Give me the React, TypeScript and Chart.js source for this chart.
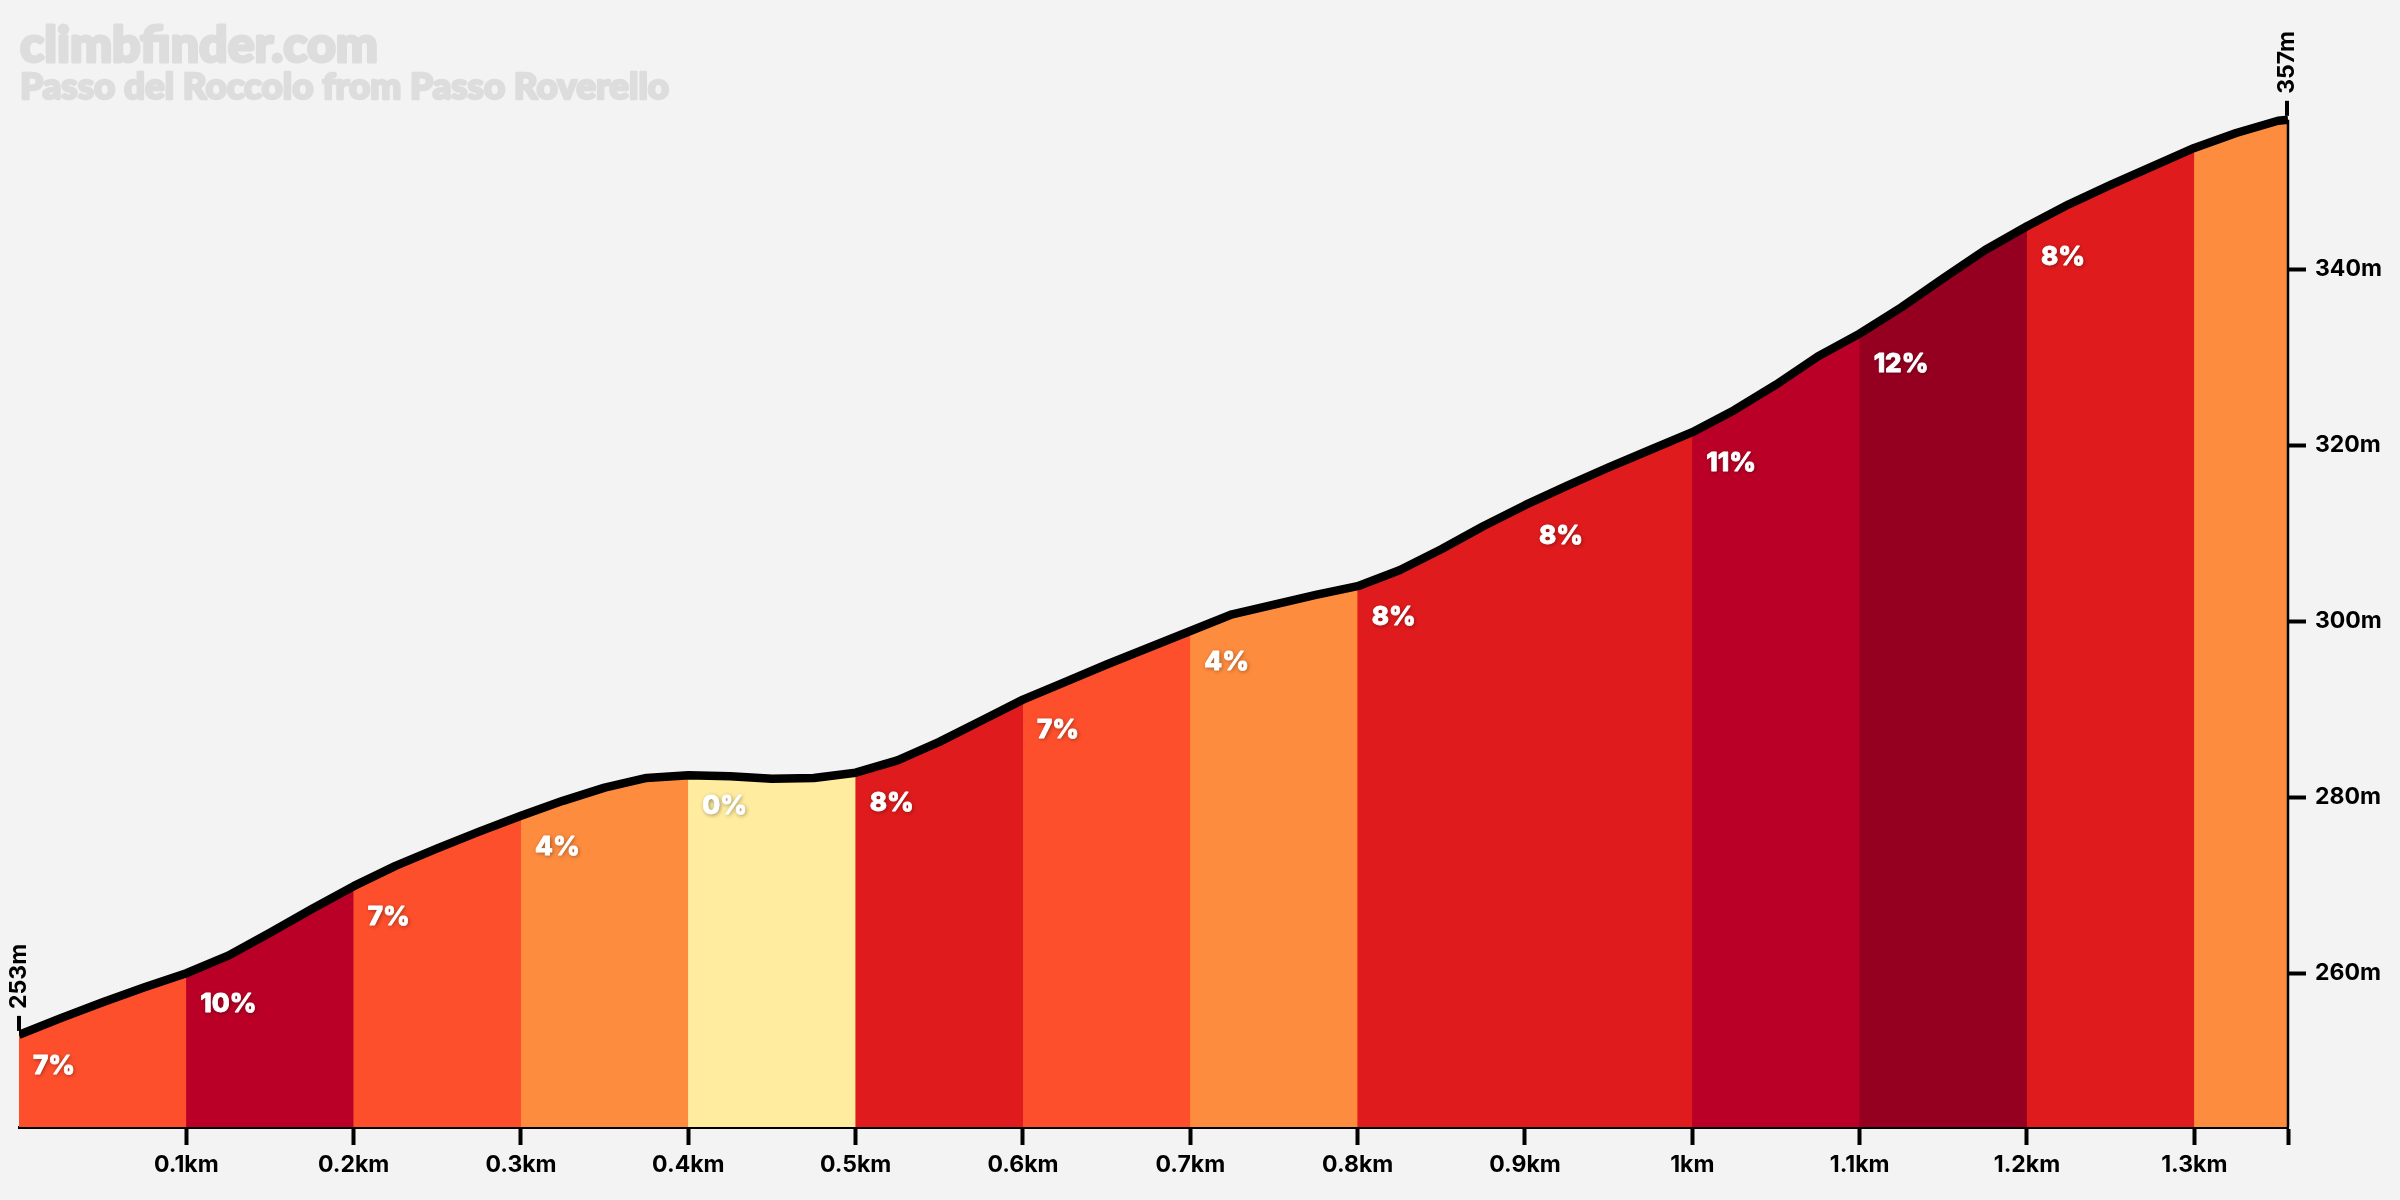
import React, { useEffect, useRef } from 'react';
import { Chart, registerables } from 'chart.js';

Chart.register(...registerables);

const TITLE = 'climbfinder.com';
const SUBTITLE = 'Passo del Roccolo from Passo Roverello';

const DIST_KM = [
  0, 0.025, 0.05, 0.075, 0.1, 0.125, 0.15, 0.175, 0.2, 0.225, 0.25, 0.275, 0.3, 0.325, 0.35, 0.375,
  0.4, 0.425, 0.45, 0.475, 0.5, 0.525, 0.55, 0.575, 0.6, 0.625, 0.65, 0.675, 0.7, 0.725, 0.75, 0.775,
  0.8, 0.825, 0.85, 0.875, 0.9, 0.925, 0.95, 0.975, 1.0, 1.025, 1.05, 1.075, 1.1, 1.125, 1.15, 1.175,
  1.2, 1.225, 1.25, 1.275, 1.3, 1.325, 1.35, 1.356,
];
const ELEV_M = [
  253.0, 254.9, 256.7, 258.4, 260.0, 262.0, 264.6, 267.3, 269.9, 272.2, 274.2, 276.1, 277.9, 279.6, 281.1, 282.2,
  282.5, 282.4, 282.1, 282.2, 282.8, 284.2, 286.3, 288.7, 291.1, 293.1, 295.1, 297.0, 298.9, 300.8, 301.9, 303.0,
  304.0, 305.8, 308.2, 310.8, 313.2, 315.4, 317.5, 319.5, 321.5, 324.0, 326.9, 330.1, 332.7, 335.7, 339.0, 342.2,
  344.9, 347.4, 349.6, 351.7, 353.8, 355.5, 356.9, 357.0,
];

const SEG_BOUNDS_KM = [0, 0.1, 0.2, 0.3, 0.4, 0.5, 0.6, 0.7, 0.8, 0.9, 1.0, 1.1, 1.2, 1.3, 1.356];
const SEG_GRADES = ['7%', '10%', '7%', '4%', '0%', '8%', '7%', '4%', '8%', '8%', '11%', '12%', '8%', ''];
const SEG_COLORS = [
  '#FD4F2C', '#BA0026', '#FD4F2C', '#FE8C3E', '#FFEC9E', '#E01B1D', '#FD4F2C',
  '#FE8C3E', '#E01B1D', '#E01B1D', '#BA0026', '#960020', '#E01B1D', '#FE8C3E',
];

const Y_TICKS = [260, 280, 300, 320, 340];
const X_TICKS = [0.1, 0.2, 0.3, 0.4, 0.5, 0.6, 0.7, 0.8, 0.9, 1.0, 1.1, 1.2, 1.3, 1.356];
const X_LABELLED_MAX = 1.3;
const START_LABEL = '253m';
const END_LABEL = '357m';

const Y_MIN = 242.53;
const Y_MAX = 363.8;

const BG = '#F3F3F3';
const FONT = 'Inter, "Noto Sans", sans-serif';

function elevAt(km: number): number {
  for (let i = 0; i < DIST_KM.length; i++) {
    if (Math.abs(DIST_KM[i] - km) < 1e-6) return ELEV_M[i];
  }
  return ELEV_M[0];
}

const decorPlugin = {
  id: 'decor',
  beforeDraw(chart: any) {
    const ctx = chart.ctx;
    ctx.save();
    ctx.fillStyle = BG;
    ctx.fillRect(0, 0, chart.width, chart.height);
    ctx.fillStyle = '#DDDDDD';
    ctx.strokeStyle = '#DDDDDD';
    ctx.lineJoin = 'round';
    ctx.textAlign = 'left';
    ctx.textBaseline = 'alphabetic';
    ctx.font = '900 50px Lato, sans-serif';
    ctx.lineWidth = 3;
    ctx.strokeText(TITLE, 20, 62);
    ctx.fillText(TITLE, 20, 62);
    ctx.font = '900 36.8px Lato, sans-serif';
    ctx.lineWidth = 2.5;
    ctx.strokeText(SUBTITLE, 20, 99);
    ctx.fillText(SUBTITLE, 20, 99);
    ctx.restore();
  },
  afterDatasetsDraw(chart: any) {
    const ctx = chart.ctx;
    const xs = chart.scales.x;
    const ys = chart.scales.y;
    const area = chart.chartArea;
    ctx.save();

    const endKm = DIST_KM[DIST_KM.length - 1];
    const endX = xs.getPixelForValue(endKm);
    const endY = ys.getPixelForValue(ELEV_M[ELEV_M.length - 1]);
    ctx.strokeStyle = '#000';
    ctx.lineWidth = 2.5;
    ctx.beginPath();
    ctx.moveTo(endX, area.bottom);
    ctx.lineTo(endX, endY);
    ctx.stroke();

    // grade labels
    ctx.font = `800 26px ${FONT}`;
    ctx.textAlign = 'left';
    ctx.textBaseline = 'middle';
    ctx.fillStyle = '#FFFFFF';
    ctx.strokeStyle = '#FFFFFF';
    ctx.lineWidth = 0.8;
    ctx.lineJoin = 'round';
    for (let i = 0; i < SEG_GRADES.length; i++) {
      if (!SEG_GRADES[i]) continue;
      const km = SEG_BOUNDS_KM[i];
      const px = xs.getPixelForValue(km) + 14;
      const py = ys.getPixelForValue(elevAt(km)) + 31;
      ctx.shadowColor = 'rgba(0,0,0,0.45)';
      ctx.shadowBlur = 4;
      ctx.shadowOffsetX = 1;
      ctx.shadowOffsetY = 1;
      ctx.fillText(SEG_GRADES[i], px, py);
      ctx.shadowColor = 'transparent';
      ctx.shadowBlur = 0;
      ctx.shadowOffsetX = 0;
      ctx.shadowOffsetY = 0;
      ctx.strokeText(SEG_GRADES[i], px, py);
    }

    // start / end markers
    const marks = [
      { km: DIST_KM[0], m: ELEV_M[0], text: START_LABEL },
      { km: endKm, m: ELEV_M[ELEV_M.length - 1], text: END_LABEL },
    ];
    ctx.font = `bold 23px ${FONT}`;
    ctx.fillStyle = '#000';
    ctx.strokeStyle = '#000';
    for (const mk of marks) {
      const px = Math.min(Math.max(xs.getPixelForValue(mk.km), 18), endX - 1);
      const py = ys.getPixelForValue(mk.m);
      ctx.lineWidth = 4;
      ctx.beginPath();
      ctx.moveTo(px, py - 4);
      ctx.lineTo(px, py - 19);
      ctx.stroke();
      ctx.save();
      ctx.translate(px, py - 26);
      ctx.rotate(-Math.PI / 2);
      ctx.textAlign = 'left';
      ctx.textBaseline = 'middle';
      ctx.fillText(mk.text, 0, 0);
      ctx.restore();
    }
    ctx.restore();
  },
};

export default function App() {
  const ref = useRef<HTMLCanvasElement | null>(null);

  useEffect(() => {
    document.body.style.margin = '0';
    document.body.style.background = BG;
    const canvas = ref.current;
    if (!canvas) return;

    const points = DIST_KM.map((d, i) => ({ x: d, y: ELEV_M[i] }));
    // each segment also keeps the point just before its start, so that it sits
    // underneath its left neighbour (drawn later) and no seam shows through
    const segDatasets = SEG_COLORS.map((color, i) => {
      const a = SEG_BOUNDS_KM[i];
      const b = SEG_BOUNDS_KM[i + 1];
      const inside = points.filter((p) => p.x >= a - 1e-9 && p.x <= b + 1e-9);
      const firstIdx = points.indexOf(inside[0]);
      const data = firstIdx > 0 ? [points[firstIdx - 1], ...inside] : inside;
      return {
        type: 'line',
        data,
        backgroundColor: color,
        borderWidth: 0,
        borderColor: color,
        pointRadius: 0,
        fill: 'start',
        tension: 0,
        order: 2,
      };
    });

    const chart = new Chart(canvas, {
      type: 'line',
      data: {
        datasets: [
          ...segDatasets,
          {
            type: 'line',
            data: points,
            borderColor: '#000000',
            borderWidth: 8.5,
            borderJoinStyle: 'round',
            borderCapStyle: 'butt',
            pointRadius: 0,
            fill: false,
            tension: 0,
            order: 1,
          },
        ] as any,
      },
      options: {
        responsive: false,
        animation: false,
        events: [],
        layout: { padding: { left: 19, top: 60, right: 0, bottom: 0 } },
        plugins: {
          legend: { display: false },
          tooltip: { enabled: false },
          title: { display: false },
        },
        scales: {
          x: {
            type: 'linear',
            position: 'bottom',
            min: 0,
            max: DIST_KM[DIST_KM.length - 1],
            afterBuildTicks: (scale: any) => {
              scale.ticks = X_TICKS.map((v) => ({ value: v }));
            },
            afterFit: (scale: any) => {
              scale.height = 73;
            },
            border: { display: true, color: '#000', width: 3 },
            grid: {
              display: true,
              drawOnChartArea: false,
              drawTicks: true,
              tickLength: 18,
              tickWidth: 4,
              tickColor: '#000',
            },
            ticks: {
              autoSkip: false,
              maxRotation: 0,
              padding: 6,
              color: '#000',
              font: { family: FONT, weight: 'bold', size: 23 },
              callback: (v: any) => {
                const n = Number(v);
                if (n > X_LABELLED_MAX + 1e-6) return '';
                return `${parseFloat(n.toFixed(1))}km`;
              },
            },
          },
          y: {
            type: 'linear',
            position: 'right',
            min: Y_MIN,
            max: Y_MAX,
            afterBuildTicks: (scale: any) => {
              scale.ticks = Y_TICKS.map((v) => ({ value: v }));
            },
            afterFit: (scale: any) => {
              scale.width = 112;
            },
            border: { display: false },
            grid: {
              display: true,
              drawOnChartArea: false,
              drawTicks: true,
              tickLength: 18,
              tickWidth: 4,
              tickColor: '#000',
            },
            ticks: {
              padding: 9,
              color: '#000',
              font: { family: FONT, weight: 'bold', size: 23 },
              callback: (v: any) => `${v}m`,
            },
          },
        },
      },
      plugins: [decorPlugin],
    } as any);

    return () => chart.destroy();
  }, []);

  return (
    <canvas
      ref={ref}
      width={2400}
      height={1200}
      style={{ display: 'block', width: '2400px', height: '1200px' }}
    />
  );
}
